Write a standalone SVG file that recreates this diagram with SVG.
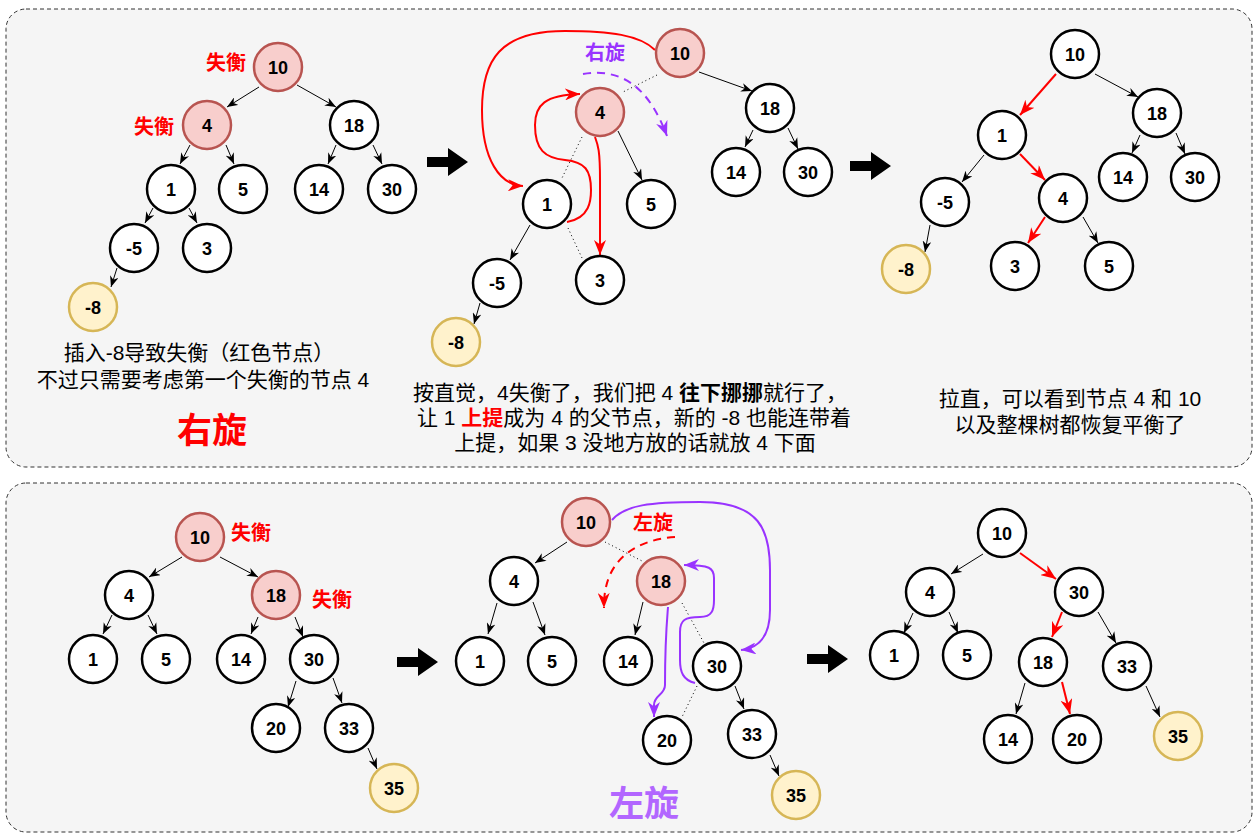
<svg xmlns="http://www.w3.org/2000/svg" width="1256" height="837" viewBox="0 0 1256 837">
<style>
.panel{fill:#f5f5f5;stroke:#333;stroke-width:1;stroke-dasharray:4 3}
.n circle{fill:#fff;stroke:#000;stroke-width:2.5}
.pk circle{fill:#f8cecc;stroke:#b85450}
.yl circle{fill:#fff2cc;stroke:#d6b656}
.n text{font-family:"Liberation Sans",Arial,sans-serif;font-weight:bold;font-size:18px;text-anchor:middle;fill:#000}
.e{stroke:#000;stroke-width:1;fill:none;marker-end:url(#ab)}
.r{stroke:#f00;stroke-width:2;fill:none;marker-end:url(#ar)}
.p{stroke:#9933ff;stroke-width:2;fill:none;marker-end:url(#ap)}
.d{stroke:#000;stroke-width:1;fill:none;stroke-dasharray:1 3}
.t{font-family:"Liberation Sans","Noto Sans CJK SC",sans-serif;font-size:21px;fill:#000;text-anchor:middle}
.lbl{font-family:"Noto Sans CJK SC",sans-serif;font-weight:bold;font-size:20px;fill:#f00;text-anchor:middle}
.big{font-family:"Noto Sans CJK SC",sans-serif;font-weight:bold;font-size:35px;text-anchor:middle}
</style>
<defs>
<marker id="ab" viewBox="0 0 10 8" refX="10" refY="4" markerWidth="11" markerHeight="9" markerUnits="userSpaceOnUse" orient="auto"><path d="M0,0 L10,4 L0,8 L3,4 Z" fill="#000"/></marker>
<marker id="ar" viewBox="0 0 10 8" refX="10" refY="4" markerWidth="15" markerHeight="12" markerUnits="userSpaceOnUse" orient="auto"><path d="M0,0 L10,4 L0,8 L3,4 Z" fill="#f00"/></marker>
<marker id="ap" viewBox="0 0 10 8" refX="10" refY="4" markerWidth="15" markerHeight="12" markerUnits="userSpaceOnUse" orient="auto"><path d="M0,0 L10,4 L0,8 L3,4 Z" fill="#9933ff"/></marker>
<path id="bigarrow" d="M0,-5 L21,-5 L21,-14 L41,0 L21,14 L21,5 L0,5 Z" fill="#000"/>
</defs>

<g id="panels">
<rect class="panel" x="6" y="9" width="1246" height="458" rx="20"/>
<rect class="panel" x="6" y="483" width="1246" height="349" rx="20"/>
</g>

<g id="connectors">
<!-- top-left -->
<line class="e" x1="259" y1="87" x2="227" y2="107"/>
<line class="e" x1="297" y1="85" x2="336" y2="107"/>
<line class="e" x1="190" y1="145" x2="180" y2="164"/>
<line class="e" x1="226" y1="145" x2="234" y2="164"/>
<line class="e" x1="336" y1="145" x2="328" y2="164"/>
<line class="e" x1="373" y1="145" x2="382" y2="164"/>
<line class="e" x1="153" y1="208" x2="145" y2="223"/>
<line class="e" x1="189" y1="208" x2="197" y2="223"/>
<line class="e" x1="117" y1="268" x2="111" y2="287"/>
<!-- top-middle -->
<line class="e" x1="699" y1="72" x2="752" y2="91"/>
<line class="e" x1="753" y1="130" x2="745" y2="147"/>
<line class="e" x1="788" y1="128" x2="798" y2="149"/>
<line class="e" x1="618" y1="131" x2="642" y2="180"/>
<line class="e" x1="530" y1="225" x2="510" y2="260"/>
<line class="e" x1="480" y1="303" x2="474" y2="324"/>
<line class="d" x1="657" y1="75" x2="623" y2="92"/>
<line class="d" x1="582" y1="137" x2="562" y2="178"/>
<line class="d" x1="568" y1="228" x2="582" y2="258"/>
<path class="r" d="M655,50 C640,35 610,31 565,31 C500,31 482,60 482,110 C482,160 500,185 523,186"/>
<path class="r" d="M567,222 C590,218 591,200 591,190 C591,170 585,162 565,160 C545,158 535,150 535,125 C535,105 545,95 580,94"/>
<path class="r" d="M595,137 C598,145 600,150 600,180 L600,255"/>
<path d="M583,74 C620,68 648,85 667,136" fill="none" stroke="#9933ff" stroke-width="2" stroke-dasharray="8 6" marker-end="url(#ap)"/>
<!-- top-right -->
<line class="r" x1="1056" y1="74" x2="1020" y2="115"/>
<line class="e" x1="1095" y1="74" x2="1138" y2="97"/>
<line class="e" x1="1140" y1="135" x2="1132" y2="153"/>
<line class="e" x1="1176" y1="133" x2="1185" y2="154"/>
<line class="e" x1="984" y1="155" x2="962" y2="182"/>
<line class="r" x1="1020" y1="154" x2="1045" y2="180"/>
<line class="e" x1="930" y1="225" x2="925" y2="252"/>
<line class="r" x1="1045" y1="217" x2="1028" y2="243"/>
<line class="e" x1="1083" y1="217" x2="1098" y2="243"/>
<!-- bottom-left -->
<line class="e" x1="182" y1="557" x2="149" y2="577"/>
<line class="e" x1="220" y1="557" x2="258" y2="577"/>
<line class="e" x1="112" y1="615" x2="103" y2="634"/>
<line class="e" x1="148" y1="615" x2="157" y2="634"/>
<line class="e" x1="258" y1="617" x2="251" y2="634"/>
<line class="e" x1="295" y1="617" x2="303" y2="637"/>
<line class="e" x1="296" y1="681" x2="288" y2="707"/>
<line class="e" x1="333" y1="678" x2="342" y2="703"/>
<line class="e" x1="368" y1="748" x2="377" y2="769"/>
<!-- bottom-middle -->
<line class="e" x1="567" y1="542" x2="535" y2="563"/>
<line class="e" x1="497" y1="603" x2="488" y2="634"/>
<line class="e" x1="533" y1="602" x2="545" y2="635"/>
<line class="e" x1="643" y1="602" x2="635" y2="635"/>
<line class="e" x1="735" y1="686" x2="744" y2="709"/>
<line class="e" x1="770" y1="755" x2="779" y2="776"/>
<line class="d" x1="605" y1="542" x2="644" y2="562"/>
<line class="d" x1="682" y1="603" x2="704" y2="643"/>
<line class="d" x1="697" y1="686" x2="682" y2="717"/>
<path d="M675,537 C635,540 603,560 604,608" fill="none" stroke="#f00" stroke-width="2" stroke-dasharray="8 6" marker-end="url(#ar)"/>
<path class="p" d="M612,520 C625,505 650,502 700,502 C760,502 770,530 770,570 L770,610 C770,635 760,648 741,650"/>
<path class="p" d="M695,683 C683,680 680,672 680,660 L680,632 C680,620 685,617 700,617 C712,617 714,610 714,600 L714,578 C714,568 710,565 684,565"/>
<path class="p" d="M668,607 C667,620 665,640 665,685 C665,695 654,695 654,705 L654,717"/>
<!-- bottom-right -->
<line class="e" x1="983" y1="554" x2="951" y2="574"/>
<line class="r" x1="1020" y1="553" x2="1056" y2="579"/>
<line class="e" x1="913" y1="613" x2="904" y2="633"/>
<line class="e" x1="949" y1="612" x2="958" y2="633"/>
<line class="r" x1="1062" y1="612" x2="1052" y2="637"/>
<line class="e" x1="1098" y1="612" x2="1116" y2="643"/>
<line class="e" x1="1025" y1="683" x2="1016" y2="714"/>
<line class="r" x1="1062" y1="682" x2="1070" y2="714"/>
<line class="e" x1="1146" y1="686" x2="1160" y2="717"/>
</g>

<g id="step-arrows">
<use href="#bigarrow" x="427" y="162"/>
<use href="#bigarrow" x="850" y="166"/>
<use href="#bigarrow" x="397" y="662"/>
<use href="#bigarrow" x="807" y="659"/>
</g>

<!-- top-left tree -->
<g id="a10" class="n pk"><circle cx="278" cy="67" r="24"/><text x="278" y="73.5">10</text></g>
<g id="a4" class="n pk"><circle cx="207" cy="125" r="24"/><text x="207" y="131.5">4</text></g>
<g id="a18" class="n"><circle cx="354" cy="125" r="24"/><text x="354" y="131.5">18</text></g>
<g id="a1" class="n"><circle cx="171" cy="189" r="24"/><text x="171" y="195.5">1</text></g>
<g id="a5" class="n"><circle cx="243" cy="189" r="24"/><text x="243" y="195.5">5</text></g>
<g id="a14" class="n"><circle cx="319" cy="189" r="24"/><text x="319" y="195.5">14</text></g>
<g id="a30" class="n"><circle cx="392" cy="189" r="24"/><text x="392" y="195.5">30</text></g>
<g id="am5" class="n"><circle cx="134" cy="248" r="24"/><text x="134" y="254.5">-5</text></g>
<g id="a3" class="n"><circle cx="207" cy="248" r="24"/><text x="207" y="254.5">3</text></g>
<g id="am8" class="n yl"><circle cx="93" cy="307" r="24"/><text x="93" y="313.5">-8</text></g>
<g id="a-labels">
<text class="lbl" x="226" y="70">失衡</text>
<text class="lbl" x="154" y="134">失衡</text>
<text class="t" x="199" y="360">插入-8导致失衡（红色节点）</text>
<text class="t" x="203" y="387">不过只需要考虑第一个失衡的节点 4</text>
<text class="big" x="212" y="443" fill="#f00">右旋</text>
</g>

<!-- top-middle tree -->
<g id="b10" class="n pk"><circle cx="680" cy="53" r="24"/><text x="680" y="59.5">10</text></g>
<g id="b4" class="n pk"><circle cx="600" cy="112" r="24"/><text x="600" y="118.5">4</text></g>
<g id="b18" class="n"><circle cx="770" cy="108" r="24"/><text x="770" y="114.5">18</text></g>
<g id="b14" class="n"><circle cx="736" cy="172" r="24"/><text x="736" y="178.5">14</text></g>
<g id="b30" class="n"><circle cx="808" cy="172" r="24"/><text x="808" y="178.5">30</text></g>
<g id="b1" class="n"><circle cx="547" cy="204" r="24"/><text x="547" y="210.5">1</text></g>
<g id="b5" class="n"><circle cx="651" cy="204" r="24"/><text x="651" y="210.5">5</text></g>
<g id="bm5" class="n"><circle cx="497" cy="283" r="24"/><text x="497" y="289.5">-5</text></g>
<g id="b3" class="n"><circle cx="600" cy="280" r="24"/><text x="600" y="286.5">3</text></g>
<g id="bm8" class="n yl"><circle cx="456" cy="342" r="24"/><text x="456" y="348.5">-8</text></g>
<g id="b-labels">
<text class="lbl" x="605" y="60" style="fill:#9933ff">右旋</text>
<text class="t" x="630" y="400">按直觉，4失衡了，我们把 4 <tspan font-weight="bold">往下挪挪</tspan>就行了，</text>
<text class="t" x="634" y="425">让 1 <tspan font-weight="bold" fill="#f00">上提</tspan>成为 4 的父节点，新的 -8 也能连带着</text>
<text class="t" x="635" y="450">上提，如果 3 没地方放的话就放 4 下面</text>
</g>

<!-- top-right tree -->
<g id="c10" class="n"><circle cx="1075" cy="54" r="24"/><text x="1075" y="60.5">10</text></g>
<g id="c1" class="n"><circle cx="1002" cy="135" r="24"/><text x="1002" y="141.5">1</text></g>
<g id="c18" class="n"><circle cx="1157" cy="113" r="24"/><text x="1157" y="119.5">18</text></g>
<g id="cm5" class="n"><circle cx="945" cy="202" r="24"/><text x="945" y="208.5">-5</text></g>
<g id="c4" class="n"><circle cx="1063" cy="198" r="24"/><text x="1063" y="204.5">4</text></g>
<g id="c14" class="n"><circle cx="1123" cy="177" r="24"/><text x="1123" y="183.5">14</text></g>
<g id="c30" class="n"><circle cx="1195" cy="177" r="24"/><text x="1195" y="183.5">30</text></g>
<g id="cm8" class="n yl"><circle cx="906" cy="269" r="24"/><text x="906" y="275.5">-8</text></g>
<g id="c3" class="n"><circle cx="1015" cy="266" r="24"/><text x="1015" y="272.5">3</text></g>
<g id="c5" class="n"><circle cx="1109" cy="266" r="24"/><text x="1109" y="272.5">5</text></g>
<g id="c-labels">
<text class="t" x="1070" y="406">拉直，可以看到节点 4 和 10</text>
<text class="t" x="1070" y="432">以及整棵树都恢复平衡了</text>
</g>

<!-- bottom-left tree -->
<g id="d10" class="n pk"><circle cx="200" cy="537" r="24"/><text x="200" y="543.5">10</text></g>
<g id="d4" class="n"><circle cx="129" cy="595" r="24"/><text x="129" y="601.5">4</text></g>
<g id="d18" class="n pk"><circle cx="276" cy="595" r="24"/><text x="276" y="601.5">18</text></g>
<g id="d1" class="n"><circle cx="93" cy="659" r="24"/><text x="93" y="665.5">1</text></g>
<g id="d5" class="n"><circle cx="166" cy="659" r="24"/><text x="166" y="665.5">5</text></g>
<g id="d14" class="n"><circle cx="241" cy="659" r="24"/><text x="241" y="665.5">14</text></g>
<g id="d30" class="n"><circle cx="314" cy="659" r="24"/><text x="314" y="665.5">30</text></g>
<g id="d20" class="n"><circle cx="276" cy="728" r="24"/><text x="276" y="734.5">20</text></g>
<g id="d33" class="n"><circle cx="349" cy="728" r="24"/><text x="349" y="734.5">33</text></g>
<g id="d35" class="n yl"><circle cx="394" cy="788" r="24"/><text x="394" y="794.5">35</text></g>
<g id="d-labels">
<text class="lbl" x="251" y="540">失衡</text>
<text class="lbl" x="332" y="607">失衡</text>
</g>

<!-- bottom-middle tree -->
<g id="e10" class="n pk"><circle cx="586" cy="522" r="24"/><text x="586" y="528.5">10</text></g>
<g id="e4" class="n"><circle cx="514" cy="581" r="24"/><text x="514" y="587.5">4</text></g>
<g id="e18" class="n pk"><circle cx="661" cy="581" r="24"/><text x="661" y="587.5">18</text></g>
<g id="e1" class="n"><circle cx="480" cy="661" r="24"/><text x="480" y="667.5">1</text></g>
<g id="e5" class="n"><circle cx="552" cy="661" r="24"/><text x="552" y="667.5">5</text></g>
<g id="e14" class="n"><circle cx="628" cy="661" r="24"/><text x="628" y="667.5">14</text></g>
<g id="e30" class="n"><circle cx="717" cy="666" r="24"/><text x="717" y="672.5">30</text></g>
<g id="e20" class="n"><circle cx="667" cy="740" r="24"/><text x="667" y="746.5">20</text></g>
<g id="e33" class="n"><circle cx="752" cy="734" r="24"/><text x="752" y="740.5">33</text></g>
<g id="e35" class="n yl"><circle cx="796" cy="795" r="24"/><text x="796" y="801.5">35</text></g>
<g id="e-labels">
<text class="lbl" x="653" y="530">左旋</text>
<text class="big" x="644" y="816" fill="#b266ff">左旋</text>
</g>

<!-- bottom-right tree -->
<g id="f10" class="n"><circle cx="1002" cy="533" r="24"/><text x="1002" y="539.5">10</text></g>
<g id="f4" class="n"><circle cx="930" cy="592" r="24"/><text x="930" y="598.5">4</text></g>
<g id="f30" class="n"><circle cx="1079" cy="592" r="24"/><text x="1079" y="598.5">30</text></g>
<g id="f1" class="n"><circle cx="894" cy="655" r="24"/><text x="894" y="661.5">1</text></g>
<g id="f5" class="n"><circle cx="967" cy="655" r="24"/><text x="967" y="661.5">5</text></g>
<g id="f18" class="n"><circle cx="1043" cy="662" r="24"/><text x="1043" y="668.5">18</text></g>
<g id="f33" class="n"><circle cx="1127" cy="666" r="24"/><text x="1127" y="672.5">33</text></g>
<g id="f14" class="n"><circle cx="1008" cy="739" r="24"/><text x="1008" y="745.5">14</text></g>
<g id="f20" class="n"><circle cx="1077" cy="739" r="24"/><text x="1077" y="745.5">20</text></g>
<g id="f35" class="n yl"><circle cx="1178" cy="736" r="24"/><text x="1178" y="742.5">35</text></g>
</svg>
